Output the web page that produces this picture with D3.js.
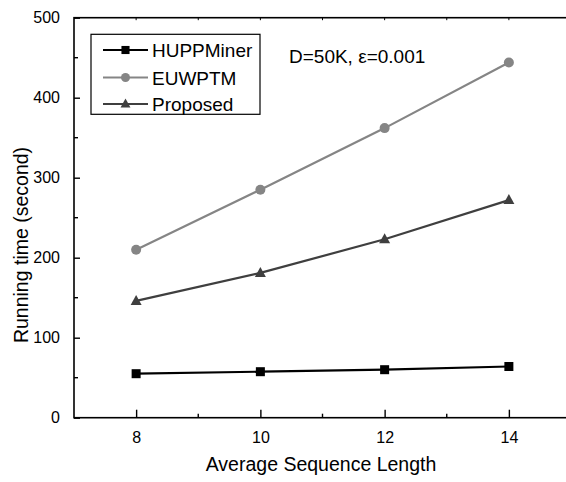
<!DOCTYPE html>
<html>
<head>
<meta charset="utf-8">
<script src="https://cdn.jsdelivr.net/npm/d3@7/dist/d3.min.js"></script>
<style>
  html, body { margin: 0; padding: 0; background: #fff; }
  svg { display: block; font-family: "Liberation Sans", Arial, sans-serif; }
</style>
</head>
<body>
<svg id="chart" width="566" height="482"></svg>
<script>
// ---- data ----
const categories = [8, 10, 12, 14];
const huppminer = [55, 57.5, 60, 64];
const euwptm = [210, 285, 362, 444];
const proposed = [146, 181, 223, 272];
const seriesNames = ["HUPPMiner", "EUWPTM", "Proposed"];
const yTickValues = [0, 100, 200, 300, 400, 500];
const xTickValues = [8, 10, 12, 14];
const annotation = "D=50K, \u03b5=0.001";
const xTitle = "Average Sequence Length";
const yTitle = "Running time (second)";

(function () {
// ---- layout ----
const svg = d3.select("#chart");
const pLeft = 74, pRight = 571, pTop = 17.7, pBottom = 417.7;
const x = d3.scaleLinear().domain([7, 15]).range([pLeft, pRight]);
const y = d3.scaleLinear().domain([0, 500]).range([pBottom, pTop]);

const styles = [
  { color: "#000000", shape: "square" },
  { color: "#858585", shape: "circle" },
  { color: "#3f3f3f", shape: "triangle" }
];
const allSeries = [huppminer, euwptm, proposed];

// frame
svg.append("rect")
  .attr("x", pLeft).attr("y", pTop)
  .attr("width", pRight - pLeft).attr("height", pBottom - pTop)
  .attr("fill", "none").attr("stroke", "#000").attr("stroke-width", 1.6);

// bottom axis (ticks inward)
const xMinor = [9, 11, 13];
const gx = svg.append("g").attr("transform", `translate(0,${pBottom})`);
gx.call(d3.axisBottom(x).tickValues(xTickValues).tickSize(-8).tickPadding(14).tickFormat(d3.format("d")))
  .call(g => g.select(".domain").remove())
  .call(g => g.selectAll("line").attr("stroke-width", 1.4))
  .call(g => g.selectAll("text").attr("font-size", 16).attr("font-family", "Liberation Sans, Arial, sans-serif").attr("fill", "#000"));
gx.selectAll("line.minor").data(xMinor).enter().append("line")
  .attr("class", "minor")
  .attr("x1", d => x(d)).attr("x2", d => x(d))
  .attr("y1", 0).attr("y2", -4)
  .attr("stroke", "#000").attr("stroke-width", 1.4);

// top axis ticks (small, inward)
svg.append("g").selectAll("line").data([8, 9, 10, 11, 12, 13, 14]).enter().append("line")
  .attr("x1", d => x(d)).attr("x2", d => x(d))
  .attr("y1", pTop).attr("y2", pTop + 2.5)
  .attr("stroke", "#000").attr("stroke-width", 1);

// left axis (ticks inward)
const gy = svg.append("g").attr("transform", `translate(${pLeft},0)`);
gy.call(d3.axisLeft(y).tickValues(yTickValues).tickSize(-6).tickPadding(14).tickFormat(d3.format("d")))
  .call(g => g.select(".domain").remove())
  .call(g => g.selectAll("line").attr("stroke-width", 1.4))
  .call(g => g.selectAll("text").attr("font-size", 16).attr("font-family", "Liberation Sans, Arial, sans-serif").attr("fill", "#000"));
gy.selectAll("line.minor").data([50, 150, 250, 350, 450]).enter().append("line")
  .attr("class", "minor")
  .attr("x1", 0).attr("x2", 4)
  .attr("y1", d => y(d)).attr("y2", d => y(d))
  .attr("stroke", "#000").attr("stroke-width", 1.4);

// marker drawing
function drawMarker(g, shape, color, cx, cy, scale) {
  const s = scale || 1;
  if (shape === "square") {
    const a = 9 * s;
    g.append("rect").attr("x", cx - a / 2).attr("y", cy - a / 2)
      .attr("width", a).attr("height", a).attr("fill", color);
  } else if (shape === "circle") {
    g.append("circle").attr("cx", cx).attr("cy", cy).attr("r", 5 * s).attr("fill", color);
  } else {
    const w = 11 * s, h = 10 * s;
    g.append("path")
      .attr("d", `M${cx},${cy - h * 0.6}L${cx + w / 2},${cy + h * 0.4}L${cx - w / 2},${cy + h * 0.4}Z`)
      .attr("fill", color);
  }
}

// series
const line = d3.line().x((d, i) => x(categories[i])).y(d => y(d));
allSeries.forEach((vals, si) => {
  const st = styles[si];
  const g = svg.append("g");
  g.append("path").datum(vals).attr("d", line)
    .attr("fill", "none").attr("stroke", st.color).attr("stroke-width", 2.2);
  vals.forEach((v, i) => drawMarker(g, st.shape, st.color, x(categories[i]), y(v)));
});

// legend
const lg = svg.append("g");
lg.append("rect").attr("x", 91).attr("y", 34.3).attr("width", 169).attr("height", 80)
  .attr("fill", "#fff").attr("stroke", "#000").attr("stroke-width", 1.2);
const rowY = [50, 77.5, 104];
seriesNames.forEach((name, i) => {
  const st = styles[i];
  lg.append("line").attr("x1", 103).attr("x2", 148).attr("y1", rowY[i]).attr("y2", rowY[i])
    .attr("stroke", st.color).attr("stroke-width", 2.2);
  drawMarker(lg, st.shape, st.color, 125.5, rowY[i], 0.9);
  lg.append("text").attr("x", 152).attr("y", rowY[i] + 7)
    .attr("font-size", 19).attr("fill", "#000").text(name);
});

// annotation
svg.append("text").attr("x", 289).attr("y", 63.3).attr("font-size", 19).attr("fill", "#000")
  .text(annotation);

// axis titles
svg.append("text").attr("x", 321).attr("y", 471).attr("text-anchor", "middle")
  .attr("font-size", 19.5).attr("fill", "#000").text(xTitle);
svg.append("text").attr("transform", "translate(27.5,245) rotate(-90)").attr("text-anchor", "middle")
  .attr("font-size", 19.5).attr("fill", "#000").text(yTitle);
})();
</script>
</body>
</html>
